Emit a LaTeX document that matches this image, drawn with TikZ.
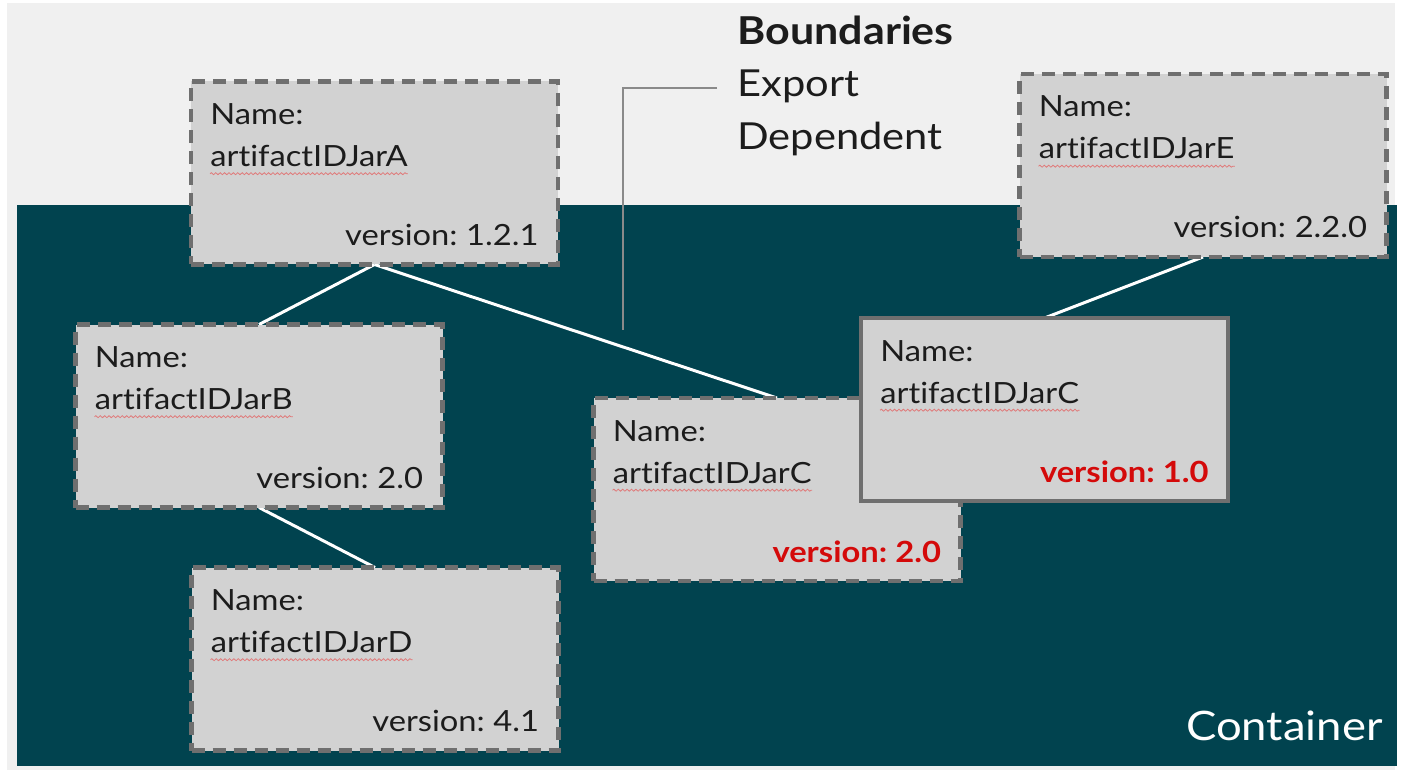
\documentclass[tikz,border=0pt]{standalone}
\usepackage{fontspec}
\setmainfont[FakeStretch=1.12, Ligatures=NoCommon, WordSpace=0.7]{Lato}
\usetikzlibrary{decorations.pathmorphing}

\definecolor{paper}{HTML}{F0F0F0}
\definecolor{containerfill}{HTML}{01434F}
\definecolor{boxgray}{HTML}{D2D2D2}
\definecolor{edgegray}{HTML}{6F6F6F}
\definecolor{ink}{HTML}{1C1C1C}
\definecolor{conflictred}{HTML}{D40A0A}
\definecolor{spellred}{HTML}{E07A7A}
\definecolor{leadergray}{HTML}{8A8A8A}

\pgfdeclarelayer{bg}
\pgfsetlayers{bg,main}

\tikzset{
  jarbox/.style={rectangle, fill=boxgray, draw=edgegray, line width=2.1pt,
    minimum width=183.5pt, minimum height=91.5pt, inner sep=0pt, outer sep=0pt},
  dashedbox/.style={jarbox, dash pattern=on 6.5pt off 4pt},
  solidbox/.style={jarbox},
  link/.style={draw=white, line width=1.5pt},
  txt/.style={inner sep=0pt, anchor=base west, text=ink, font=\fontsize{14.6}{17}\selectfont},
  ver/.style={inner sep=0pt, anchor=base east, text=ink, font=\fontsize{14.6}{17}\selectfont},
  redver/.style={inner sep=0pt, anchor=base east, text=conflictred, font=\fontsize{14.6}{17}\selectfont\bfseries},
  spell/.style={draw=spellred, line width=0.4pt, decorate,
    decoration={snake, amplitude=0.5pt, segment length=2.2pt}},
  legend/.style={inner sep=0pt, anchor=base west, text=ink, font=\fontsize{18.6}{21}\selectfont},
  leader/.style={draw=leadergray, line width=0.75pt},
}

% #1 name, #2 centre, #3 box style, #4 artifact id, #5 version, #6 version style
\newcommand\jar[6]{%
  \node[#3] (#1) at #2 {};
  \node[txt] (#1-lbl) at ([shift={(19,43)}]#1.north west) {Name:};
  \node[txt] (#1-id) at ([shift={(19,85)}]#1.north west) {#4};
  \draw[spell] ([yshift=-3.6pt]#1-id.base west) -- ([yshift=-3.6pt]#1-id.base east);
  \node[#6] (#1-ver) at ([shift={(-19,-19)}]#1.south east) {#5};
}

\begin{document}
\begin{tikzpicture}[x=0.5pt, y=-0.5pt]
  \useasboundingbox (0,0) rectangle (1402,770);

  % page and container area
  \begin{pgfonlayer}{bg}
    \fill[white] (0,0) rectangle (1402,770);
    \fill[paper] (7,3) rectangle (1395,770);
    \fill[containerfill] (17,205) rectangle (1397,766);
  \end{pgfonlayer}

  % artifact boxes
  \jar{A}{(374.5,173)}{dashedbox}{artifactIDJarA}{version: 1.2.1}{ver}
  \jar{B}{(259,416)}{dashedbox}{artifactIDJarB}{version: 2.0}{ver}
  \jar{D}{(375,659)}{dashedbox}{artifactIDJarD}{version: 4.1}{ver}
  \jar{E}{(1203,165.5)}{dashedbox}{artifactIDJarE}{version: 2.2.0}{ver}
  \jar{C2}{(777,489.5)}{dashedbox}{artifactIDJarC}{version: 2.0}{redver}
  \jar{C1}{(1044.5,409.5)}{solidbox}{artifactIDJarC}{version: 1.0}{redver}

  % dependency links
  \begin{pgfonlayer}{bg}
    \draw[link] (A.south) -- (B.north);
    \draw[link] (A.south) -- (C2.north);
    \draw[link] (B.south) -- (D.north);
    \draw[link] (E.south) -- (C1.north);
  \end{pgfonlayer}

  % legend
  \node[legend, font=\fontsize{19.2}{21}\selectfont\bfseries] (bnd) at (737,45) {Boundaries};
  \node[legend] (exp) at (737,97) {Export};
  \node[legend] (dep) at (737,150) {Dependent};
  \coordinate (leaderfoot) at (623,330);
  \begin{pgfonlayer}{bg}
    \draw[leader] ([xshift=-10pt, yshift=0.45em]exp.base west) -| (leaderfoot);
  \end{pgfonlayer}

  \node[inner sep=0pt, anchor=base east, text=white, font=\fontsize{20.3}{24}\selectfont]
    (ctn) at (1383,740) {Container};
\end{tikzpicture}
\end{document}
